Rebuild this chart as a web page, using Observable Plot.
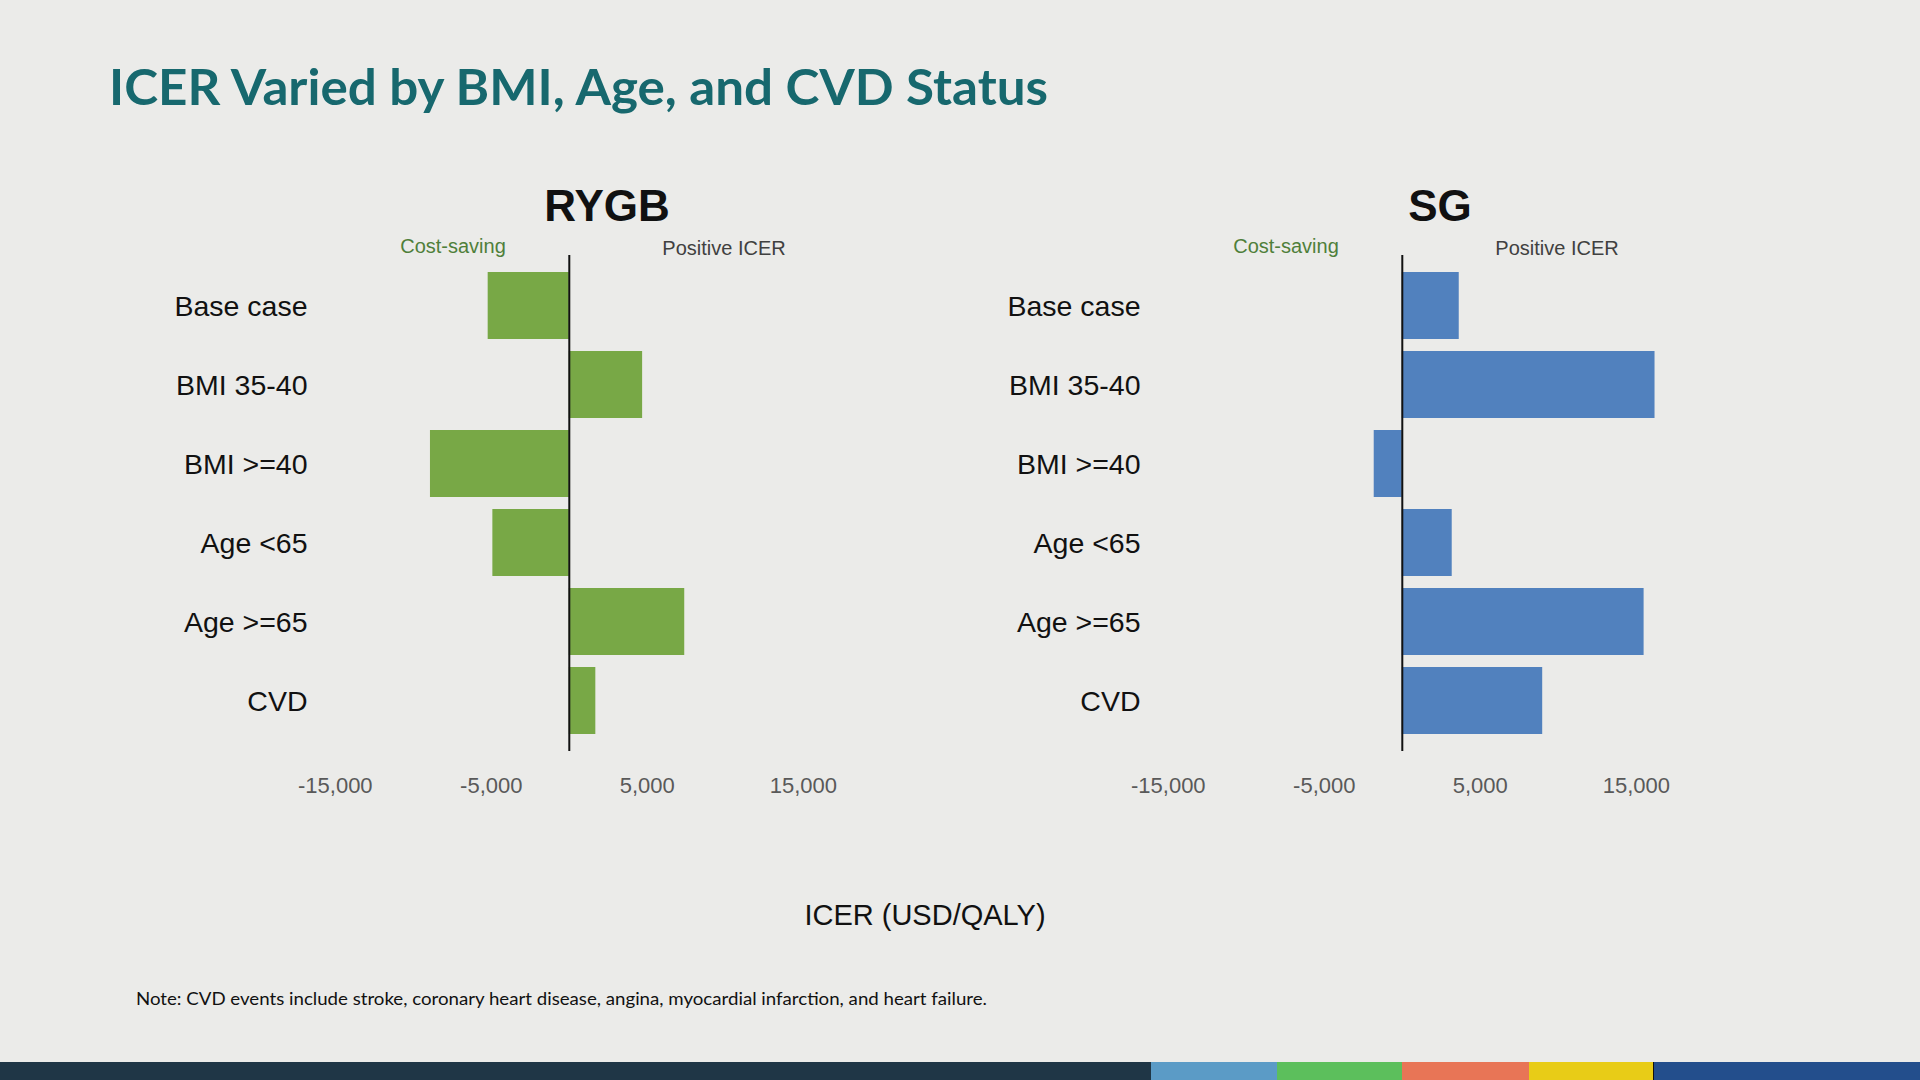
<!DOCTYPE html>
<html>
<head>
<meta charset="utf-8">
<script src="https://cdn.jsdelivr.net/npm/d3@7"></script>
<script src="https://cdn.jsdelivr.net/npm/@observablehq/plot@0.6"></script>
<style>
  html, body { margin: 0; padding: 0; }
  body { width: 1920px; height: 1080px; background: #ebebe9; position: relative; overflow: hidden; font-family: "Liberation Sans", Arial, sans-serif; }
  .abs { position: absolute; white-space: nowrap; line-height: 1; }
  .c { transform: translate(-50%, -50%); }
  .panel { position: absolute; top: 200px; }
  .strip { position: absolute; top: 1062px; height: 18px; }
</style>
</head>
<body>
<div id="title" class="abs" style="left:109px; top:62px; font-family: Lato, 'Open Sans', sans-serif; font-weight:700; font-size:49px; color:#17686e; transform-origin:left center;">ICER Varied by BMI, Age, and CVD Status</div>

<div class="abs c" style="left:607px; top:206px; font-weight:700; font-size:44px; color:#111;">RYGB</div>
<div class="abs c" style="left:1440px; top:206px; font-weight:700; font-size:44px; color:#111;">SG</div>

<div class="abs c" style="left:453px; top:246px; font-size:20px; color:#4f7f3a;">Cost-saving</div>
<div class="abs c" style="left:724px; top:248px; font-size:20px; color:#404040;">Positive ICER</div>
<div class="abs c" style="left:1286px; top:246px; font-size:20px; color:#4f7f3a;">Cost-saving</div>
<div class="abs c" style="left:1557px; top:248px; font-size:20px; color:#404040;">Positive ICER</div>

<div id="rygb" class="panel" style="left:0px;"></div>
<div id="sg" class="panel" style="left:833px;"></div>

<div class="abs c" style="left:925px; top:915px; font-size:29px; color:#111;">ICER (USD/QALY)</div>

<div id="note" class="abs" style="left:136px; top:990px; font-family: Lato, 'Open Sans', sans-serif; font-size:17px; color:#111; transform-origin:left center;">Note: CVD events include stroke, coronary heart disease, angina, myocardial infarction, and heart failure.</div>

<div class="strip" style="left:0; width:1151px; background:#1f3646;"></div>
<div class="strip" style="left:1151px; width:126px; background:#5b9bc6;"></div>
<div class="strip" style="left:1277px; width:125px; background:#5cbf5c;"></div>
<div class="strip" style="left:1402px; width:127px; background:#e87556;"></div>
<div class="strip" style="left:1529px; width:124px; background:#e8cc17;"></div>
<div class="strip" style="left:1653px; width:267px; background:#234e8c; border-left:1px solid #111;"></div>

<script>
const categories = ["Base case", "BMI 35-40", "BMI >=40", "Age <65", "Age >=65", "CVD"];
const rygbValues = [-5200, 4700, -8900, -4900, 7400, 1700];
const sgValues = [3650, 16200, -1800, 3200, 15500, 9000];
const xTicks = [-15000, -5000, 5000, 15000];
const rygbColor = "#78a846";
const sgColor = "#5181be";

function panel(values, color) {
  const data = categories.map((c, i) => ({category: c, value: values[i]}));
  return Plot.plot({
    width: 834,
    height: 606,
    marginLeft: 327,
    marginRight: 0,
    marginTop: 55,
    marginBottom: 55,
    style: {background: "transparent", fontFamily: "'Liberation Sans', Arial, sans-serif", overflow: "visible"},
    x: {domain: [-15500, 17000], label: null},
    y: {domain: categories, paddingInner: 0.152, paddingOuter: 0.215, label: null},
    marks: [
      Plot.barX(data, {x: "value", y: "category", fill: color}),
      Plot.ruleX([0], {stroke: "#111", strokeWidth: 2}),
      Plot.axisX({ticks: xTicks, tickFormat: d => d.toLocaleString("en-US"), tickSize: 0, tickPadding: 26, fontSize: 22, color: "#595959", label: null}),
      Plot.axisY({tickSize: 0, tickPadding: 20, fontSize: 28.5, dy: 1, color: "#111", label: null})
    ]
  });
}

document.getElementById("rygb").appendChild(panel(rygbValues, rygbColor));
document.getElementById("sg").appendChild(panel(sgValues, sgColor));

function fitWidth(id, target) {
  const el = document.getElementById(id);
  const w = el.getBoundingClientRect().width;
  if (w > 0) el.style.transform = `scaleX(${target / w})`;
}
fitWidth("title", 939);
fitWidth("note", 851);
</script>
</body>
</html>
